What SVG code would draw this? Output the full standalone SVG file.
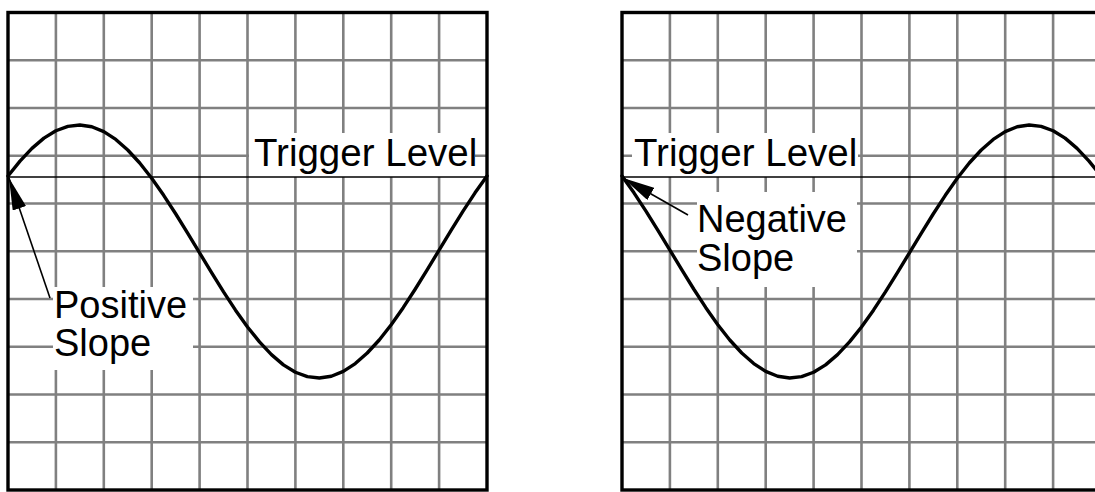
<svg xmlns="http://www.w3.org/2000/svg" width="1095" height="492" viewBox="0 0 1095 492">
<style>
.grid{stroke:#808080;stroke-width:2.6;fill:none}
.box{fill:#ffffff;stroke:none}
.trig{stroke:#000;stroke-width:1.5;fill:none}
.wave{stroke:#000;stroke-width:3.4;fill:none;stroke-linejoin:round;stroke-linecap:round}
.frame{stroke:#000;stroke-width:3.4;fill:none}
.lbl{font-family:"Liberation Sans",Arial,sans-serif;fill:#000}
.arrow{stroke:#000;stroke-width:1.6;fill:none;marker-end:url(#head)}
</style>
<defs>
<marker id="head" viewBox="0 -7 32 14" refX="32" refY="0" markerWidth="32" markerHeight="14" markerUnits="userSpaceOnUse" orient="auto">
<path d="M0,-7 L32,0 L0,7 z" fill="#000"/>
</marker>
<g id="gridlines">
<path class="grid" d="M55.9,12.5V490M103.8,12.5V490M151.7,12.5V490M199.6,12.5V490M247.5,12.5V490M295.4,12.5V490M343.3,12.5V490M391.2,12.5V490M439.1,12.5V490M8,60.25H487M8,108H487M8,155.75H487M8,203.5H487M8,251.25H487M8,299H487M8,346.75H487M8,394.5H487M8,442.25H487"/>
</g>
</defs>
<g id="panel-left">
<use href="#gridlines"/>
<rect class="box" x="249" y="133" width="226" height="44"/>
<rect class="box" x="53" y="287" width="140" height="83"/>
<line class="trig" x1="8" y1="177" x2="487" y2="177"/>
<polyline class="wave" points="8,176 19.98,161.07 31.95,148.34 43.93,138.17 55.9,130.77 67.88,126.35 79.85,125 91.83,126.78 103.8,131.63 115.78,139.42 127.75,149.98 139.73,163.01 151.7,178.28 163.68,195.31 175.65,213.74 187.63,233.08 199.6,252.89 211.58,272.66 223.55,291.92 235.53,310.17 247.5,326.97 259.48,341.93 271.45,354.66 283.43,364.83 295.4,372.23 307.38,376.65 319.35,378 331.33,376.22 343.3,371.37 355.28,363.58 367.25,353.02 379.23,339.99 391.2,324.72 403.18,307.69 415.15,289.26 427.13,269.92 439.1,250.11 451.08,230.34 463.05,211.08 475.03,192.83 487,176"/>
<rect class="frame" x="8" y="12.5" width="479" height="477.5"/>
</g>
<g id="panel-right">
<use href="#gridlines" transform="translate(614,0)"/>
<rect class="box" x="632" y="133" width="226" height="44"/>
<rect class="box" x="697" y="192" width="160" height="95"/>
<line class="trig" x1="622" y1="177" x2="1101" y2="177"/>
<polyline class="wave" points="622,176 633.98,192.83 645.95,211.08 657.93,230.34 669.9,250.11 681.88,269.92 693.85,289.26 705.83,307.69 717.8,324.72 729.78,339.99 741.75,353.02 753.73,363.58 765.7,371.37 777.68,376.22 789.65,378 801.63,376.65 813.6,372.23 825.58,364.83 837.55,354.66 849.53,341.93 861.5,326.97 873.48,310.17 885.45,291.92 897.43,272.66 909.4,252.89 921.38,233.08 933.35,213.74 945.33,195.31 957.3,178.28 969.28,163.01 981.25,149.98 993.23,139.42 1005.2,131.63 1017.18,126.78 1029.15,125 1041.13,126.35 1053.1,130.77 1065.08,138.17 1077.05,148.34 1089.03,161.07 1101,176"/>
<rect class="frame" x="622" y="12.5" width="479" height="477.5"/>
</g>
<g id="label-trigger-left"><text class="lbl" x="254" y="166" font-size="38.5">Trigger Level</text></g>
<g id="label-trigger-right"><text class="lbl" x="634" y="166" font-size="38.5">Trigger Level</text></g>
<g id="label-positive"><text class="lbl" x="54" y="318" font-size="38">Positive</text><text class="lbl" x="54" y="356" font-size="38">Slope</text></g>
<g id="label-negative"><text class="lbl" x="697" y="232" font-size="38">Negative</text><text class="lbl" x="697" y="271" font-size="38">Slope</text></g>
<g id="connectors">
<line class="arrow" x1="50" y1="298" x2="9" y2="178"/>
<line class="arrow" x1="688" y1="215" x2="623" y2="178"/>
</g>
</svg>
